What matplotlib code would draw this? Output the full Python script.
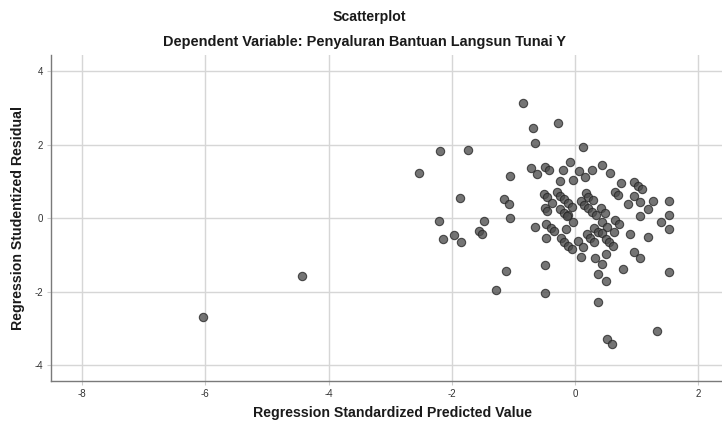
import numpy as np
import matplotlib
matplotlib.use("Agg")
import matplotlib.pyplot as plt

# regression standardized predicted value (x) / studentized residual (y)
pred = [-0.849, -0.682, -0.276, -0.654, 0.135, -2.187, -1.732, -2.528, -1.050, -0.081,
        0.438, -0.714, -0.617, -0.487, -0.422, -0.195, 0.065, 0.281, 0.576, -0.248,
        -0.032, 0.162, 0.752, 0.958, 1.023, 1.083, 0.644, 0.698, 0.958, 1.271,
        1.518, 1.058, 0.864, -1.148, -1.067, -1.872, -0.503, -0.455, -0.369, -0.295,
        -0.248, -0.183, -0.119, -0.487, -0.455, -0.244, -0.175, -0.109, -0.049, 0.182,
        0.216, 0.292, 0.102, 0.154, 0.216, 0.279, 0.344, 0.422, 0.487, 1.185,
        1.055, 1.518, 0.649, 1.401, 1.518, -1.050, -1.485, -2.208, -1.558, -1.510,
        -1.964, -2.138, -1.851, -0.649, -0.476, -0.390, -0.336, -0.151, -0.028, -0.135,
        -0.466, -0.232, -0.174, -0.119, -0.054, 0.054, 0.135, 0.190, 0.248, 0.313,
        0.369, 0.304, 0.433, 0.097, 0.325, -0.487, 0.378, 0.433, 0.722, 0.524,
        0.633, 0.438, 0.503, 0.557, 0.612, 0.958, 1.055, 0.503, 0.771, 1.518,
        0.893, 1.180, 0.503, -1.117, -1.282, -0.492, 0.378, 0.524, 0.601, 1.326,
        -6.044, -4.437]
resid = [3.146, 2.465, 2.585, 2.049, 1.940, 1.839, 1.867, 1.233, 1.143, 1.524,
         1.442, 1.361, 1.214, 1.396, 1.306, 1.314, 1.279, 1.306, 1.246, 1.015,
         1.042, 1.116, 0.974, 0.988, 0.879, 0.792, 0.729, 0.642, 0.607, 0.484,
         0.476, 0.449, 0.376, 0.533, 0.403, 0.544, 0.667, 0.588, 0.430, 0.716,
         0.607, 0.533, 0.416, 0.267, 0.212, 0.245, 0.136, 0.098, 0.316, 0.688,
         0.571, 0.493, 0.465, 0.367, 0.272, 0.171, 0.090, 0.280, 0.158, 0.245,
         0.063, 0.082, -0.041, -0.087, -0.291, 0.000, -0.073, -0.065, -0.346, -0.419,
         -0.463, -0.563, -0.653, -0.250, -0.147, -0.272, -0.346, -0.291, -0.093, 0.054,
         -0.544, -0.544, -0.653, -0.746, -0.835, -0.618, -0.781, -0.435, -0.528, -0.272,
         -0.365, -0.637, -0.093, -1.059, -1.072, -1.271, -1.524, -1.230, -0.163, -0.237,
         -0.381, -0.408, -0.563, -0.653, -0.762, -0.917, -1.088, -0.958, -1.380, -1.448,
         -0.433, -0.509, -1.714, -1.426, -1.951, -2.041, -2.286, -3.276, -3.412, -3.059,
         -2.686, -1.562]

xticks = [-8, -6, -4, -2, 0, 2]
yticks = [-4, -2, 0, 2, 4]

FONT = ['Liberation Sans Narrow', 'Liberation Sans', 'DejaVu Sans']
plt.rcParams['font.family'] = FONT
plt.rcParams['axes.unicode_minus'] = False

fig = plt.figure(figsize=(7.22, 4.24), dpi=100)
ax = fig.add_axes([0.0706, 0.1014, 0.9294, 0.7689])

ax.scatter(pred, resid, s=36, facecolor='#4d4d4d', edgecolor='#262626',
           linewidth=0.8, alpha=0.78, zorder=3)

ax.set_xlim(-8.506, 2.386)
ax.set_ylim(-4.427, 4.444)
ax.set_xticks(xticks)
ax.set_yticks(yticks)
ax.grid(True, color='#d6d6d6', linewidth=1.0, zorder=0)
ax.set_axisbelow(True)
for s in ['top', 'right']:
    ax.spines[s].set_visible(False)
for s in ['left', 'bottom']:
    ax.spines[s].set_color('#7a7a7a')
    ax.spines[s].set_linewidth(1.0)
ax.tick_params(length=3, color='#cccccc', labelsize=7, labelcolor='#333333', pad=2.5)

fig.text(0.512, 0.960, 'Scatterplot', ha='center', va='center',
         fontsize=10.2, fontweight='bold', color='#1a1a1a')
fig.text(0.505, 0.901, 'Dependent Variable: Penyaluran Bantuan Langsun Tunai Y',
         ha='center', va='center', fontsize=10.45, fontweight='bold', color='#1a1a1a')
fig.text(0.544, 0.026, 'Regression Standardized Predicted Value', ha='center',
         va='center', fontsize=10.2, fontweight='bold', color='#1a1a1a')
fig.text(0.0256, 0.487, 'Regression Studentized Residual', ha='center', va='center',
         rotation=90, fontsize=10.2, fontweight='bold', color='#1a1a1a')

fig.savefig('out.png', dpi=100)
